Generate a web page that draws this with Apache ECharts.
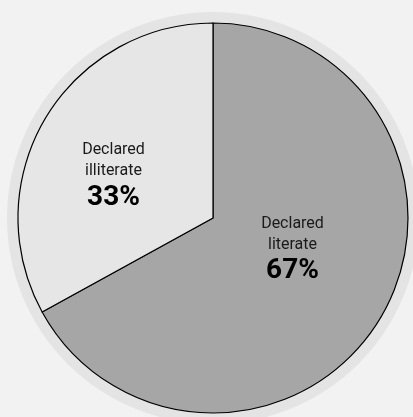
<!DOCTYPE html>
<head>
    <title>ECharts</title>
    <script src="https://cdn.jsdelivr.net/npm/echarts@6/dist/echarts.min.js"></script>
</head>
<body style="margin:0;background:#f2f2f2">
    <div id="main" style="width:413px;height:417px"></div>
    <script type="text/javascript">
        var categories = ['Declared\nliterate', 'Declared\nilliterate'];
        var shares = [67, 33];
        var sliceColors = ['#a6a6a6', '#e6e6e6'];
        var labelShift = [[-7, -19], [-13, 10]];

        var myChart = echarts.init(document.getElementById('main'));

        var pieData = [];
        for (var i = 0; i < categories.length; i++) {
            pieData.push({
                name: categories[i],
                value: shares[i],
                itemStyle: { color: sliceColors[i] },
                label: { offset: labelShift[i] }
            });
        }

        var option = {
            backgroundColor: '#f2f2f2',
            animation: false,
            series: [
                {
                    // pale rim behind the pie
                    type: 'pie',
                    silent: true,
                    center: [213, 218],
                    radius: [0, 206],
                    z: 1,
                    label: { show: false },
                    labelLine: { show: false },
                    itemStyle: { color: '#e4e4e4', borderWidth: 0 },
                    data: [{ value: 1, name: 'rim' }]
                },
                {
                    type: 'pie',
                    center: [213, 218],
                    radius: [0, 195],
                    startAngle: 90,
                    clockwise: true,
                    z: 2,
                    itemStyle: { borderColor: '#000', borderWidth: 1.2 },
                    label: {
                        show: true,
                        position: 'inside',
                        formatter: function (p) {
                            return '{a|' + p.name + '}\n{b|' + p.value + '%}';
                        },
                        rich: {
                            a: {
                                fontFamily: 'Roboto',
                                fontSize: 16,
                                lineHeight: 21,
                                color: '#1a1a1a',
                                align: 'center'
                            },
                            b: {
                                fontFamily: 'Roboto',
                                fontSize: 28,
                                fontWeight: 'bold',
                                lineHeight: 32,
                                color: '#000',
                                align: 'center'
                            }
                        }
                    },
                    labelLine: { show: false },
                    data: pieData
                }
            ]
        };

        myChart.setOption(option);
    </script>
</body>
